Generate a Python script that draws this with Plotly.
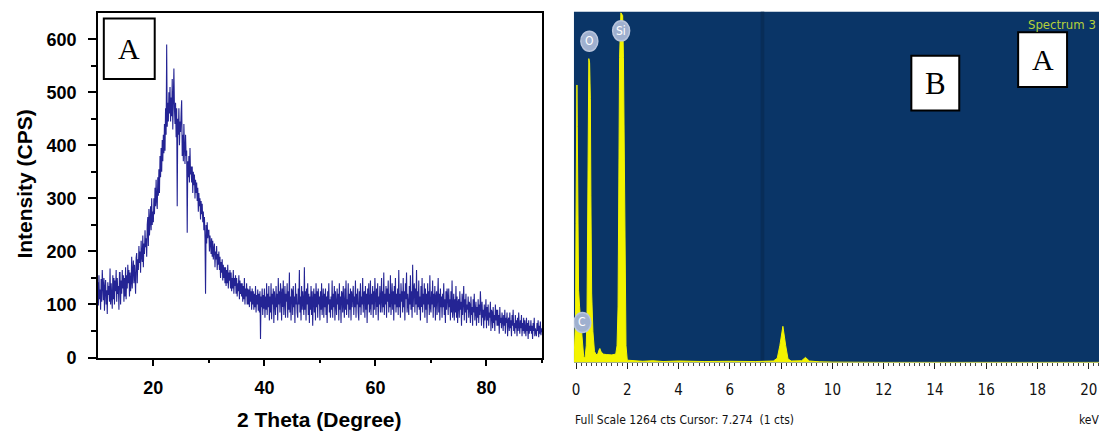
import plotly.graph_objects as go

# ---------------- XRD pattern (panel A) ----------------
# one row per degree, samples every 0.1 deg from 10.0 to 90.0
theta_start = 10.0
theta_step = 0.1
intensity = [
    142, 98, 155, 110, 128, 90, 148, 105, 165, 112,   # 10
    108, 150, 88, 132, 146, 100, 127, 82, 142, 118,   # 11
    135, 105, 168, 100, 140, 115, 92, 155, 110, 150,  # 12
    100, 145, 125, 165, 105, 150, 120, 135, 90, 160,  # 13
    160, 100, 145, 120, 165, 130, 155, 105, 150, 115,  # 14
    170, 110, 155, 130, 175, 140, 165, 115, 160, 125,  # 15
    142, 190, 130, 165, 183, 140, 175, 150, 120, 188,  # 16
    197, 140, 185, 165, 210, 178, 200, 160, 220, 190,  # 17
    180, 230, 170, 215, 195, 240, 208, 225, 190, 250,  # 18
    265, 210, 280, 230, 255, 285, 240, 300, 250, 275,  # 19
    255, 300, 270, 320, 285, 335, 295, 280, 340, 305,  # 20
    355, 310, 380, 340, 395, 350, 410, 370, 420, 385,  # 21
    440, 390, 470, 420, 590, 435, 480, 445, 500, 460,  # 22
    510, 445, 490, 455, 525, 430, 500, 545, 470, 440,  # 23
    480, 415, 470, 285, 450, 420, 470, 400, 445, 425,  # 24
    460, 485, 380, 420, 370, 440, 395, 365, 420, 380,  # 25
    390, 235, 370, 340, 380, 330, 395, 345, 360, 330,  # 26
    360, 310, 350, 325, 345, 300, 335, 310, 330, 295,  # 27
    320, 275, 310, 285, 300, 260, 295, 270, 290, 255,  # 28
    275, 240, 265, 225, 120, 250, 215, 255, 225, 240,  # 29
    240, 200, 230, 215, 195, 225, 190, 220, 185, 205,  # 30
    215, 170, 200, 185, 210, 165, 195, 175, 200, 165,  # 31
    190, 150, 180, 160, 185, 145, 175, 150, 170, 140,  # 32
    170, 135, 165, 140, 175, 130, 160, 145, 165, 130,  # 33
    160, 125, 150, 130, 165, 120, 150, 135, 155, 120,  # 34
    150, 115, 140, 125, 155, 110, 145, 120, 140, 115,  # 35
    140, 105, 135, 110, 150, 100, 130, 115, 140, 100,  # 36
    130, 100, 128, 95, 135, 105, 125, 90, 130, 100,    # 37
    125, 90, 120, 95, 135, 85, 118, 100, 128, 88,      # 38
    120, 85, 125, 35, 115, 95, 130, 80, 118, 92,       # 39
    130, 75, 115, 90, 140, 80, 120, 95, 135, 70,       # 40
    115, 85, 140, 72, 120, 100, 130, 65, 125, 95,      # 41
    80, 135, 95, 120, 70, 150, 100, 125, 85, 140,      # 42
    120, 70, 130, 95, 145, 80, 110, 135, 75, 120,      # 43
    105, 140, 75, 125, 90, 160, 85, 115, 70, 130,      # 44
    125, 80, 135, 95, 115, 65, 140, 100, 120, 85,      # 45
    75, 130, 100, 165, 85, 115, 70, 135, 90, 125,      # 46
    110, 80, 170, 90, 125, 70, 130, 100, 140, 80,      # 47
    120, 65, 115, 90, 135, 80, 125, 60, 110, 130,      # 48
    85, 120, 70, 140, 95, 125, 75, 130, 100, 115,      # 49
    70, 125, 90, 140, 80, 110, 130, 75, 120, 95,       # 50
    130, 80, 115, 65, 125, 100, 140, 85, 110, 75,      # 51
    115, 90, 145, 75, 120, 95, 135, 70, 125, 100,      # 52
    80, 130, 100, 120, 70, 140, 90, 115, 65, 125,      # 53
    120, 85, 135, 100, 75, 130, 90, 145, 80, 110,      # 54
    100, 140, 75, 120, 90, 130, 70, 125, 95, 115,      # 55
    135, 80, 115, 95, 145, 75, 120, 100, 130, 85,      # 56
    70, 125, 95, 140, 80, 115, 100, 150, 85, 120,      # 57
    125, 75, 135, 90, 120, 65, 130, 100, 140, 85,      # 58
    95, 145, 80, 120, 100, 135, 75, 125, 90, 150,      # 59
    120, 80, 130, 95, 140, 70, 115, 100, 135, 85,      # 60
    110, 150, 85, 125, 95, 160, 80, 120, 100, 135,     # 61
    75, 130, 105, 145, 85, 120, 95, 155, 80, 125,      # 62
    140, 90, 125, 70, 135, 100, 150, 85, 120, 95,      # 63
    130, 80, 165, 95, 120, 75, 140, 105, 125, 85,      # 64
    150, 95, 125, 70, 140, 110, 160, 85, 120, 100,     # 65
    80, 135, 100, 155, 90, 125, 75, 175, 95, 130,      # 66
    140, 85, 130, 100, 165, 80, 125, 95, 145, 90,      # 67
    115, 70, 135, 95, 150, 85, 120, 100, 140, 75,      # 68
    130, 90, 120, 65, 140, 100, 125, 80, 155, 95,      # 69
    85, 125, 100, 145, 75, 120, 95, 135, 70, 115,      # 70
    125, 80, 110, 150, 85, 120, 70, 130, 95, 115,      # 71
    75, 120, 95, 140, 80, 110, 65, 125, 90, 130,       # 72
    115, 80, 130, 95, 110, 70, 125, 85, 145, 75,       # 73
    95, 120, 70, 110, 85, 135, 75, 115, 65, 105,       # 74
    110, 75, 125, 90, 105, 60, 120, 80, 100, 135,      # 75
    70, 110, 85, 120, 65, 100, 90, 115, 75, 105,       # 76
    100, 65, 115, 80, 95, 60, 110, 85, 120, 70,        # 77
    90, 105, 60, 95, 75, 110, 65, 100, 80, 125,        # 78
    95, 60, 105, 75, 90, 55, 100, 70, 85, 110,         # 79
    55, 95, 70, 100, 60, 85, 75, 105, 50, 90,          # 80
    85, 55, 95, 65, 80, 50, 100, 70, 90, 60,           # 81
    90, 60, 80, 45, 95, 65, 75, 55, 85, 70,            # 82
    50, 80, 60, 90, 45, 75, 65, 85, 40, 70,            # 83
    75, 50, 85, 55, 70, 40, 80, 60, 90, 50,            # 84
    65, 45, 80, 55, 70, 40, 75, 50, 85, 60,            # 85
    45, 70, 55, 80, 40, 65, 50, 75, 45, 70,            # 86
    60, 40, 75, 50, 65, 35, 70, 45, 60, 50,            # 87
    70, 45, 60, 35, 65, 50, 75, 40, 55, 45,            # 88
    40, 65, 50, 70, 38, 60, 45, 68, 42, 55,            # 89
    48,                                                # 90
]
two_theta = [round(theta_start + theta_step * i, 2) for i in range(len(intensity))]

# ---------------- EDS spectrum (panel B) ----------------
energy_kev = [
    -0.08, -0.02, 0.0, 0.02, 0.035, 0.05, 0.07, 0.10, 0.14, 0.18, 0.22, 0.27,
    0.30, 0.35, 0.40, 0.43, 0.46, 0.48, 0.50, 0.53, 0.56, 0.58, 0.61, 0.66,
    0.72, 0.78, 0.85, 0.90, 0.93, 0.97, 1.05, 1.2, 1.4, 1.55, 1.60, 1.64,
    1.67, 1.70, 1.75, 1.82, 1.85, 1.88, 1.91, 1.95, 2.0, 2.2, 2.6, 3.0, 3.4,
    4.0, 5.0, 6.0, 7.0, 7.7, 7.85, 7.95, 8.07, 8.18, 8.27, 8.4, 8.8, 8.95,
    9.1, 9.5, 10.0, 12.0, 20.4,
]
counts = [
    0, 150, 500, 900, 1000, 850, 450, 260, 200, 150, 90, 60,
    20, 15, 60, 180, 600, 950, 1095, 1080, 950, 600, 250, 110,
    40, 28, 30, 45, 50, 40, 30, 28, 27, 30, 60, 200,
    600, 1100, 1260, 1250, 1100, 700, 250, 60, 8, 6, 4, 6, 3,
    5, 3, 4, 3, 5, 15, 60, 130, 60, 12, 5, 6, 18,
    5, 2, 1, 0, 0,
]
full_scale = 1264
cursor_kev = 7.274
element_labels = ["C", "O", "Si"]
element_kev = [0.25, 0.52, 1.76]
element_label_cts = [144, 1158, 1195]

W, H = 1099, 431


def px(x):
    return x / W


def py(y):
    return 1 - y / H


fig = go.Figure()

fig.add_trace(go.Scatter(
    x=two_theta, y=intensity, mode="lines",
    line=dict(color="rgba(0,0,130,0.86)", width=1.1),
    xaxis="x", yaxis="y", showlegend=False, hoverinfo="skip",
))

fig.add_trace(go.Scatter(
    x=energy_kev, y=counts, mode="lines", fill="tozeroy",
    line=dict(color="#f4f400", width=1), fillcolor="#f4f400",
    xaxis="x2", yaxis="y2", showlegend=False, hoverinfo="skip",
))

bold_font = dict(family="Liberation Sans, Arial, sans-serif", size=18,
                 color="black", weight="bold")
narrow = "Liberation Sans Narrow, Arial Narrow, DejaVu Sans Condensed, sans-serif"

fig.update_layout(
    width=W, height=H,
    margin=dict(l=0, r=0, t=0, b=0),
    paper_bgcolor="white",
    plot_bgcolor="rgba(0,0,0,0)",
    xaxis=dict(
        domain=[px(96), px(541)], range=[10, 90],
        tickvals=[20, 40, 60, 80], ticks="outside", ticklen=7, tickwidth=1.5,
        tickcolor="black", ticklabelstandoff=6,
        minor=dict(tickvals=[30, 50, 70, 90], ticks="outside", ticklen=4,
                   tickwidth=1.5, tickcolor="black"),
        showline=True, linecolor="black", linewidth=1.5, mirror=True,
        showgrid=False, zeroline=False, tickfont=bold_font,
        anchor="y",
    ),
    yaxis=dict(
        domain=[py(366), py(13)], range=[0, 650],
        tickvals=[0, 100, 200, 300, 400, 500, 600], ticks="outside",
        ticklen=8, tickwidth=1.5, tickcolor="black", ticklabelstandoff=8,
        minor=dict(tickvals=[50, 150, 250, 350, 450, 550], ticks="outside",
                   ticklen=5, tickwidth=1.5, tickcolor="black"),
        showline=True, linecolor="black", linewidth=1.5, mirror=True,
        showgrid=False, zeroline=False, tickfont=bold_font,
        anchor="x",
    ),
    xaxis2=dict(
        domain=[px(573), 1.0], range=[-0.08, 20.4],
        tickvals=list(range(0, 21, 2)), ticks="outside", ticklen=6,
        tickwidth=1, tickcolor="#222", ticklabelstandoff=8,
        minor=dict(dtick=0.2, ticks="outside", ticklen=3, tickwidth=1,
                   tickcolor="#444"),
        showline=False, showgrid=False, zeroline=False,
        tickfont=dict(family=narrow, size=15, color="#111"),
        anchor="y2",
    ),
    yaxis2=dict(
        domain=[py(371), py(12)], range=[0, full_scale],
        visible=False, anchor="x2",
    ),
)

shapes = [
    # spectrum window background
    dict(type="rect", xref="x2 domain", yref="y2 domain", x0=0, x1=1, y0=0, y1=1,
         fillcolor="#0a3567", line=dict(width=0), layer="below"),
    # cursor marker
    dict(type="rect", xref="x2", yref="y2 domain", x0=cursor_kev - 0.07,
         x1=cursor_kev + 0.07, y0=0, y1=1, fillcolor="#082d58",
         line=dict(width=0), layer="below"),
    # panel letter boxes
    dict(type="rect", xref="paper", yref="paper", x0=px(102), x1=px(153),
         y0=py(81), y1=py(19), fillcolor="white", line=dict(color="black", width=2)),
    dict(type="rect", xref="paper", yref="paper", x0=px(911), x1=px(959),
         y0=py(113), y1=py(57), fillcolor="white", line=dict(color="black", width=2)),
    dict(type="rect", xref="paper", yref="paper", x0=px(1018), x1=px(1067),
         y0=py(89), y1=py(33), fillcolor="white", line=dict(color="black", width=2)),
]

# element marker badges
for lab, kev, cts in zip(element_labels, element_kev, element_label_cts):
    shapes.append(dict(
        type="circle", xref="x2", yref="y2", xsizemode="pixel", ysizemode="pixel",
        xanchor=kev, yanchor=cts, x0=-8.5, x1=8.5, y0=-10, y1=10,
        fillcolor="#9fb0cf", line=dict(color="#b8c4dc", width=1.5),
    ))
fig.update_layout(shapes=shapes)

serif = "Liberation Serif, Times New Roman, serif"
sans = "Liberation Sans, Arial, sans-serif"
annotations = [
    dict(text="A", xref="paper", yref="paper", x=px(127.5), y=py(50),
         xanchor="center", yanchor="middle", showarrow=False,
         font=dict(family=serif, size=30, color="black")),
    dict(text="B", xref="paper", yref="paper", x=px(935), y=py(85),
         xanchor="center", yanchor="middle", showarrow=False,
         font=dict(family=serif, size=31, color="black")),
    dict(text="A", xref="paper", yref="paper", x=px(1042.5), y=py(61),
         xanchor="center", yanchor="middle", showarrow=False,
         font=dict(family=serif, size=30, color="black")),
    dict(text="Intensity (CPS)", xref="paper", yref="paper", x=px(23), y=py(188),
         xanchor="center", yanchor="middle", textangle=-90, showarrow=False,
         font=dict(family=sans, size=21, color="black", weight="bold")),
    dict(text="2 Theta (Degree)", xref="paper", yref="paper", x=px(318), y=py(421),
         xanchor="center", yanchor="middle", yshift=-8, showarrow=False,
         font=dict(family=sans, size=21, color="black", weight="bold")),
    dict(text="Full Scale %d cts Cursor: %.3f  (1 cts)" % (full_scale, cursor_kev),
         xref="paper", yref="paper", x=px(572), y=py(421), xanchor="left",
         yanchor="middle", yshift=-9, showarrow=False,
         font=dict(family=narrow, size=12, color="#111")),
    dict(text="keV", xref="paper", yref="paper", x=px(1077), y=py(421),
         xanchor="left", yanchor="middle", yshift=-9, showarrow=False,
         font=dict(family=narrow, size=12, color="#111")),
    dict(text="Spectrum 3", xref="paper", yref="paper", x=px(1098), y=py(25),
         xanchor="right", yanchor="middle", showarrow=False,
         font=dict(family=narrow, size=13, color="#b4d03a")),
]
for lab, kev, cts in zip(element_labels, element_kev, element_label_cts):
    annotations.append(dict(
        text=lab, xref="x2", yref="y2", x=kev, y=cts, showarrow=False,
        xanchor="center", yanchor="middle",
        font=dict(family=narrow, size=12, color="white"),
    ))
fig.update_layout(annotations=annotations)

fig.write_html("out.html")
